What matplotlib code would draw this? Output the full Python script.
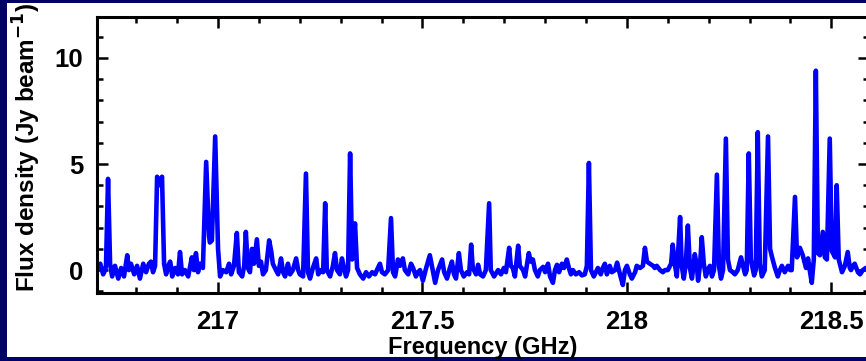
import matplotlib
matplotlib.use('Agg')
import matplotlib.pyplot as plt
from matplotlib.ticker import MultipleLocator
from matplotlib.patches import Rectangle

# Spectrum: frequency (GHz) and flux density (Jy/beam)
freq = [216.704, 216.712, 216.719, 216.724, 216.726, 216.731, 216.736, 216.741, 216.748, 216.756,
        216.763, 216.770, 216.778, 216.782, 216.787, 216.795, 216.802, 216.809, 216.817, 216.824,
        216.831, 216.836, 216.841, 216.846, 216.851, 216.858, 216.863, 216.868, 216.873, 216.878,
        216.883, 216.888, 216.895, 216.902, 216.907, 216.912, 216.919, 216.927, 216.932, 216.936,
        216.941, 216.946, 216.951, 216.956, 216.963, 216.971, 216.978, 216.980, 216.985, 216.993,
        217.000, 217.005, 217.012, 217.020, 217.027, 217.032, 217.039, 217.046, 217.051, 217.059,
        217.064, 217.068, 217.073, 217.078, 217.083, 217.088, 217.095, 217.100, 217.105, 217.110,
        217.117, 217.125, 217.130, 217.134, 217.139, 217.147, 217.154, 217.159, 217.164, 217.171,
        217.176, 217.183, 217.191, 217.196, 217.200, 217.208, 217.215, 217.220, 217.225, 217.232,
        217.240, 217.245, 217.252, 217.257, 217.262, 217.266, 217.274, 217.281, 217.286, 217.291,
        217.298, 217.303, 217.308, 217.313, 217.318, 217.323, 217.328, 217.335, 217.340, 217.347,
        217.355, 217.362, 217.369, 217.377, 217.384, 217.391, 217.396, 217.401, 217.408, 217.416,
        217.423, 217.428, 217.433, 217.440, 217.445, 217.452, 217.457, 217.465, 217.472, 217.477,
        217.484, 217.489, 217.494, 217.501, 217.509, 217.518, 217.523, 217.531, 217.538, 217.548,
        217.553, 217.560, 217.567, 217.572, 217.577, 217.582, 217.589, 217.594, 217.601, 217.609,
        217.614, 217.619, 217.623, 217.631, 217.636, 217.641, 217.648, 217.655, 217.663, 217.667,
        217.675, 217.685, 217.692, 217.699, 217.704, 217.712, 217.716, 217.721, 217.726, 217.734,
        217.738, 217.746, 217.751, 217.756, 217.760, 217.765, 217.770, 217.775, 217.782, 217.787,
        217.795, 217.800, 217.807, 217.812, 217.819, 217.824, 217.829, 217.834, 217.841, 217.846,
        217.853, 217.858, 217.863, 217.868, 217.875, 217.883, 217.890, 217.897, 217.902, 217.907,
        217.912, 217.919, 217.924, 217.929, 217.936, 217.941, 217.946, 217.951, 217.958, 217.963,
        217.971, 217.976, 217.983, 217.990, 217.995, 218.000, 218.007, 218.012, 218.020, 218.024,
        218.032, 218.039, 218.044, 218.049, 218.056, 218.064, 218.068, 218.073, 218.081, 218.088,
        218.093, 218.100, 218.108, 218.112, 218.117, 218.122, 218.130, 218.134, 218.139, 218.144,
        218.149, 218.154, 218.159, 218.166, 218.171, 218.174, 218.179, 218.183, 218.188, 218.193,
        218.198, 218.203, 218.208, 218.213, 218.220, 218.225, 218.230, 218.235, 218.242, 218.247,
        218.252, 218.259, 218.264, 218.271, 218.279, 218.284, 218.289, 218.293, 218.298, 218.303,
        218.311, 218.315, 218.320, 218.325, 218.330, 218.337, 218.345, 218.350, 218.355, 218.362,
        218.369, 218.374, 218.379, 218.386, 218.394, 218.399, 218.403, 218.411, 218.416, 218.423,
        218.430, 218.438, 218.443, 218.447, 218.452, 218.457, 218.462, 218.467, 218.472, 218.479,
        218.484, 218.489, 218.496, 218.501, 218.509, 218.513, 218.518, 218.526, 218.533, 218.540,
        218.545, 218.548, 218.553, 218.557, 218.565, 218.570, 218.577, 218.584, 218.594]

flux = [0.1, 0.3, -0.2, 0.0, 0.2, 4.3, 0.3, -0.3, 0.2, -0.4,
        0.1, -0.3, 0.7, 0.0, 0.3, -0.2, 0.2, -0.4, 0.3, -0.1,
        0.3, 0.4, -0.1, 0.2, 4.4, 4.0, 4.4, 0.3, -0.2, 0.2,
        0.4, -0.3, 0.1, -0.2, 0.85, -0.2, 0.0, -0.3, 0.2, 0.6,
        0.0, 0.8, -0.1, 0.3, 0.1, 5.1, 1.6, 1.3, 1.4, 6.3,
        1.0, -0.3, 0.0, -0.1, 0.3, -0.2, 0.2, 1.75, -0.1, -0.3,
        0.2, 1.8, 0.1, -0.1, 1.0, 0.3, 1.45, 0.2, 0.4, -0.2,
        0.0, 1.4, 0.9, 0.3, 0.1, -0.2, 0.55, -0.1, -0.3, 0.3,
        -0.2, 0.0, 0.55, 0.0, -0.2, -0.3, 4.55, -0.1, -0.4, 0.1,
        0.55, -0.2, 0.0, -0.1, 3.15, 0.0, -0.3, 0.2, 0.8, 0.0,
        -0.2, 0.55, 0.1, -0.3, 0.0, 5.5, 0.5, 2.2, 0.1, -0.2,
        -0.4, -0.1, -0.3, -0.1, -0.2, 0.1, 0.3, -0.1, -0.2, 0.0,
        2.45, -0.1, -0.3, 0.5, 0.2, 0.55, 0.0, -0.2, 0.3, 0.1,
        -0.3, -0.1, 0.0, -0.5, 0.1, 0.7, 0.2, -0.6, 0.0, 0.5,
        -0.1, -0.4, 0.1, 0.4, -0.2, -0.4, 0.8, 0.0, -0.3, -0.1,
        -0.2, 1.2, 0.1, -0.2, 0.25, -0.2, -0.3, 0.0, 3.15, 0.0,
        -0.3, 0.0, -0.2, 0.1, -0.1, 1.05, 0.2, 0.1, -0.3, 1.15,
        0.2, 0.0, -0.3, 0.3, 0.8, 0.4, 0.5, 0.0, -0.3, 0.0,
        0.15, -0.1, 0.3, -0.3, -0.6, 0.0, 0.25, -0.1, 0.3, 0.1,
        0.5, 0.1, -0.2, 0.0, -0.2, -0.1, -0.25, -0.2, 0.2, 5.05,
        0.0, -0.3, -0.1, 0.1, -0.2, 0.1, 0.3, -0.2, 0.2, -0.1,
        0.0, 0.35, -0.2, -0.7, 0.0, 0.2, -0.2, -0.4, -0.1, 0.2,
        0.1, 0.2, 1.05, 0.4, 0.3, 0.2, 0.1, 0.2, 0.0, -0.1,
        0.0, 0.0, 0.3, 1.2, 0.3, -0.3, 2.5, 0.2, -0.4, 0.3,
        2.1, 0.1, -0.4, 0.75, 0.2, -0.5, 0.3, 1.55, 0.3, -0.3,
        0.0, 0.2, -0.3, 0.0, 4.5, 0.2, -0.4, 0.0, 6.2, 0.5,
        0.0, -0.1, -0.2, 0.0, 0.6, 0.2, -0.2, 0.0, 5.5, 0.5,
        -0.25, 0.0, 6.5, 0.3, -0.3, 0.0, 6.3, 1.0, 0.6, 0.1,
        -0.3, 0.0, 0.2, -0.1, 0.2, 0.0, 0.0, 3.45, 0.6, 1.05,
        0.7, 0.1, 0.55, 0.0, -0.6, 0.5, 9.4, 0.8, 0.7, 1.8,
        0.6, 0.5, 6.2, 0.9, 0.6, 4.0, 0.5, -0.1, 0.2, 0.85,
        0.1, 0.0, 0.2, 0.3, -0.1, -0.2, 0.0, 0.1, 0.0]

x_major = [217.0, 217.5, 218.0, 218.5]
x_labels = ['217', '217.5', '218', '218.5']
y_major = [0, 5, 10]

navy = '#000066'
fig = plt.figure(figsize=(8.66, 3.61), dpi=100, facecolor=navy)

# white panel inside the navy frame
panel = Rectangle((7 / 866, 4 / 361), 1.0, 354 / 361, transform=fig.transFigure,
                  facecolor='white', edgecolor='none', zorder=-10)
fig.add_artist(panel)

ax = fig.add_axes([97 / 866, 68 / 361, 772 / 866, 276 / 361])
ax.set_zorder(5)
ax.plot(freq, flux, color='blue', lw=3.3, solid_joinstyle='round', solid_capstyle='round')

ax.set_xlim(216.704, 218.592)
ax.set_ylim(-1.08, 11.93)
ax.set_xticks(x_major)
ax.set_xticklabels(x_labels)
ax.set_yticks(y_major)
ax.xaxis.set_minor_locator(MultipleLocator(0.1))
ax.yaxis.set_minor_locator(MultipleLocator(1))

for s in ax.spines.values():
    s.set_linewidth(2.2)
ax.tick_params(which='both', direction='in', top=True, right=True, width=1.8)
ax.tick_params(which='major', length=8)
ax.tick_params(axis='x', which='major', pad=12)
ax.tick_params(axis='y', which='major', pad=10)
ax.tick_params(which='minor', length=4.5)
for lab in ax.get_xticklabels() + ax.get_yticklabels():
    lab.set_fontfamily('Liberation Sans')
    lab.set_fontweight('bold')
    lab.set_fontsize(18.5)

ax.set_xlabel('Frequency (GHz)', fontsize=17, fontweight='bold', family='Liberation Sans', labelpad=2)
fig.text(27 / 866, 69 / 361, 'Flux density (Jy beam$^{\\mathbf{-1}}$)', rotation=90,
         ha='center', va='bottom', fontsize=17.5, fontweight='bold', family='Liberation Sans')

fig.text(140 / 866, (361 - 81) / 361, 'SMA1', color='blue', fontsize=38,
         fontweight='bold', fontstyle='italic', family='Liberation Sans', ha='left', va='baseline')

fig.savefig('out.png', dpi=100, facecolor=navy)
